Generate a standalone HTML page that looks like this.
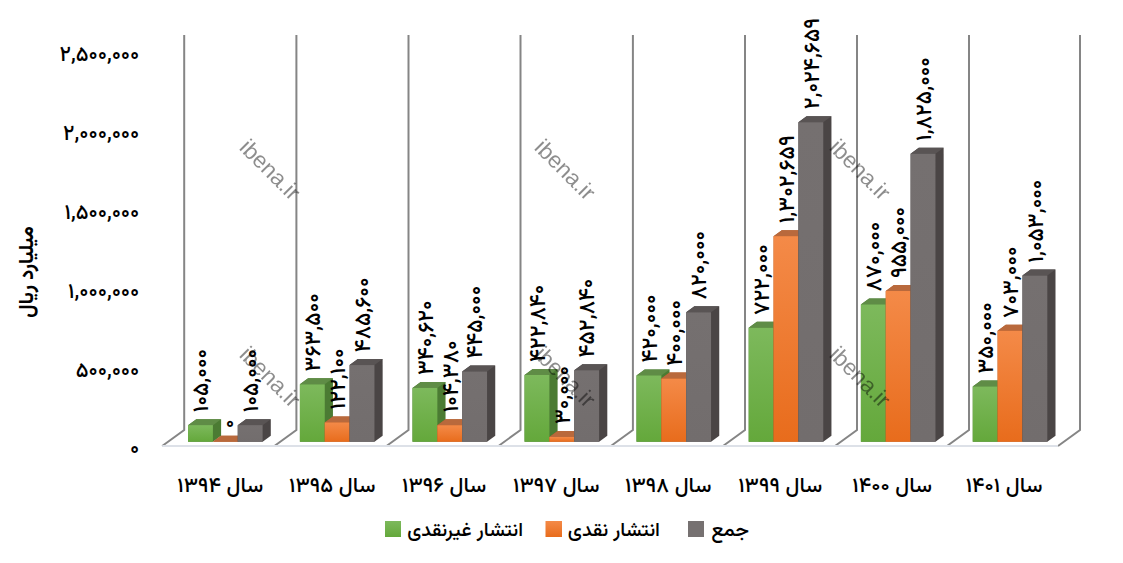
<!DOCTYPE html>
<html><head><meta charset="utf-8"><title>chart</title>
<style>
html,body{margin:0;padding:0;background:#fff;width:1123px;height:563px;overflow:hidden}
svg{display:block}
text{font-family:'Vazirmatn','DejaVu Sans',sans-serif;fill:#000;font-weight:500}
.wm{font-family:'Liberation Sans',Arial,sans-serif;font-size:22.8px;fill:#000}
.wmg{opacity:.45}
</style></head><body>
<svg width="1123" height="563" viewBox="0 0 1123 563">
<defs>
<linearGradient id="gG" x1="0" y1="0" x2="0" y2="1"><stop offset="0" stop-color="#7db95c"/><stop offset="1" stop-color="#64a83b"/></linearGradient>
<linearGradient id="gO" x1="0" y1="0" x2="0" y2="1"><stop offset="0" stop-color="#f48a48"/><stop offset="1" stop-color="#e86c1c"/></linearGradient>
<linearGradient id="gY" x1="0" y1="0" x2="0" y2="1"><stop offset="0" stop-color="#757070"/><stop offset="1" stop-color="#726d6d"/></linearGradient>
</defs>
<rect width="1123" height="563" fill="#fff"/>

<polyline points="184.2,35 184.2,430 162.2,446" fill="none" stroke="#858585" stroke-width="2"/>
<polyline points="296.4,35 296.4,430 274.4,446" fill="none" stroke="#858585" stroke-width="2"/>
<polyline points="408.5,35 408.5,430 386.5,446" fill="none" stroke="#858585" stroke-width="2"/>
<polyline points="520.5,35 520.5,430 498.5,446" fill="none" stroke="#858585" stroke-width="2"/>
<polyline points="632.9,35 632.9,430 610.9,446" fill="none" stroke="#858585" stroke-width="2"/>
<polyline points="745.0,35 745.0,430 723.0,446" fill="none" stroke="#858585" stroke-width="2"/>
<polyline points="857.0,35 857.0,430 835.0,446" fill="none" stroke="#858585" stroke-width="2"/>
<polyline points="969.0,35 969.0,430 947.0,446" fill="none" stroke="#858585" stroke-width="2"/>
<polyline points="1080.0,35 1080.0,430 1058.0,446" fill="none" stroke="#858585" stroke-width="2"/>
<line x1="162.2" y1="446" x2="1058.0" y2="446" stroke="#dde1e8" stroke-width="2"/>
<polygon points="188.05,441.7 212.90,441.7 221.10,435.7 221.10,419.13 196.25,419.13 188.05,425.13" fill="#4b7b33"/>
<polygon points="188.05,425.13 196.25,419.13 221.10,419.13 212.90,425.13" fill="#5f8c46"/>
<rect x="188.05" y="425.13" width="24.85" height="16.57" fill="url(#gG)"/>
<polygon points="212.90,441.7 237.75,441.7 245.95,435.7 245.95,435.70 221.10,435.70 212.90,441.70" fill="#b05a22"/>
<polygon points="212.90,441.70 221.10,435.70 245.95,435.70 237.75,441.70" fill="#b9693c"/>
<polygon points="237.75,441.7 262.60,441.7 270.80,435.7 270.80,419.13 245.95,419.13 237.75,425.13" fill="#4a4545"/>
<polygon points="237.75,425.13 245.95,419.13 270.80,419.13 262.60,425.13" fill="#595454"/>
<rect x="237.75" y="425.13" width="24.85" height="16.57" fill="url(#gY)"/>
<polygon points="299.90,441.7 324.75,441.7 332.95,435.7 332.95,378.35 308.10,378.35 299.90,384.35" fill="#4b7b33"/>
<polygon points="299.90,384.35 308.10,378.35 332.95,378.35 324.75,384.35" fill="#5f8c46"/>
<rect x="299.90" y="384.35" width="24.85" height="57.35" fill="url(#gG)"/>
<polygon points="324.75,441.7 349.60,441.7 357.80,435.7 357.80,416.44 332.95,416.44 324.75,422.44" fill="#b05a22"/>
<polygon points="324.75,422.44 332.95,416.44 357.80,416.44 349.60,422.44" fill="#b9693c"/>
<rect x="324.75" y="422.44" width="24.85" height="19.26" fill="url(#gO)"/>
<polygon points="349.60,441.7 374.45,441.7 382.65,435.7 382.65,359.08 357.80,359.08 349.60,365.08" fill="#4a4545"/>
<polygon points="349.60,365.08 357.80,359.08 382.65,359.08 374.45,365.08" fill="#595454"/>
<rect x="349.60" y="365.08" width="24.85" height="76.62" fill="url(#gY)"/>
<polygon points="412.50,441.7 437.35,441.7 445.55,435.7 445.55,381.96 420.70,381.96 412.50,387.96" fill="#4b7b33"/>
<polygon points="412.50,387.96 420.70,381.96 445.55,381.96 437.35,387.96" fill="#5f8c46"/>
<rect x="412.50" y="387.96" width="24.85" height="53.74" fill="url(#gG)"/>
<polygon points="437.35,441.7 462.20,441.7 470.40,435.7 470.40,419.23 445.55,419.23 437.35,425.23" fill="#b05a22"/>
<polygon points="437.35,425.23 445.55,419.23 470.40,419.23 462.20,425.23" fill="#b9693c"/>
<rect x="437.35" y="425.23" width="24.85" height="16.47" fill="url(#gO)"/>
<polygon points="462.20,441.7 487.05,441.7 495.25,435.7 495.25,365.49 470.40,365.49 462.20,371.49" fill="#4a4545"/>
<polygon points="462.20,371.49 470.40,365.49 495.25,365.49 487.05,371.49" fill="#595454"/>
<rect x="462.20" y="371.49" width="24.85" height="70.21" fill="url(#gY)"/>
<polygon points="524.55,441.7 549.40,441.7 557.60,435.7 557.60,368.98 532.75,368.98 524.55,374.98" fill="#4b7b33"/>
<polygon points="524.55,374.98 532.75,368.98 557.60,368.98 549.40,374.98" fill="#5f8c46"/>
<rect x="524.55" y="374.98" width="24.85" height="66.72" fill="url(#gG)"/>
<polygon points="549.40,441.7 574.25,441.7 582.45,435.7 582.45,430.97 557.60,430.97 549.40,436.97" fill="#b05a22"/>
<polygon points="549.40,436.97 557.60,430.97 582.45,430.97 574.25,436.97" fill="#b9693c"/>
<rect x="549.40" y="436.97" width="24.85" height="4.73" fill="url(#gO)"/>
<polygon points="574.25,441.7 599.10,441.7 607.30,435.7 607.30,364.25 582.45,364.25 574.25,370.25" fill="#4a4545"/>
<polygon points="574.25,370.25 582.45,364.25 607.30,364.25 599.10,370.25" fill="#595454"/>
<rect x="574.25" y="370.25" width="24.85" height="71.45" fill="url(#gY)"/>
<polygon points="636.50,441.7 661.35,441.7 669.55,435.7 669.55,369.43 644.70,369.43 636.50,375.43" fill="#4b7b33"/>
<polygon points="636.50,375.43 644.70,369.43 669.55,369.43 661.35,375.43" fill="#5f8c46"/>
<rect x="636.50" y="375.43" width="24.85" height="66.27" fill="url(#gG)"/>
<polygon points="661.35,441.7 686.20,441.7 694.40,435.7 694.40,372.59 669.55,372.59 661.35,378.59" fill="#b05a22"/>
<polygon points="661.35,378.59 669.55,372.59 694.40,372.59 686.20,378.59" fill="#b9693c"/>
<rect x="661.35" y="378.59" width="24.85" height="63.11" fill="url(#gO)"/>
<polygon points="686.20,441.7 711.05,441.7 719.25,435.7 719.25,306.32 694.40,306.32 686.20,312.32" fill="#4a4545"/>
<polygon points="686.20,312.32 694.40,306.32 719.25,306.32 711.05,312.32" fill="#595454"/>
<rect x="686.20" y="312.32" width="24.85" height="129.38" fill="url(#gY)"/>
<polygon points="748.70,441.7 773.55,441.7 781.75,435.7 781.75,321.78 756.90,321.78 748.70,327.78" fill="#4b7b33"/>
<polygon points="748.70,327.78 756.90,321.78 781.75,321.78 773.55,327.78" fill="#5f8c46"/>
<rect x="748.70" y="327.78" width="24.85" height="113.92" fill="url(#gG)"/>
<polygon points="773.55,441.7 798.40,441.7 806.60,435.7 806.60,230.17 781.75,230.17 773.55,236.17" fill="#b05a22"/>
<polygon points="773.55,236.17 781.75,230.17 806.60,230.17 798.40,236.17" fill="#b9693c"/>
<rect x="773.55" y="236.17" width="24.85" height="205.53" fill="url(#gO)"/>
<polygon points="798.40,441.7 823.25,441.7 831.45,435.7 831.45,116.25 806.60,116.25 798.40,122.25" fill="#4a4545"/>
<polygon points="798.40,122.25 806.60,116.25 831.45,116.25 823.25,122.25" fill="#595454"/>
<rect x="798.40" y="122.25" width="24.85" height="319.45" fill="url(#gY)"/>
<polygon points="860.90,441.7 885.75,441.7 893.95,435.7 893.95,298.43 869.10,298.43 860.90,304.43" fill="#4b7b33"/>
<polygon points="860.90,304.43 869.10,298.43 893.95,298.43 885.75,304.43" fill="#5f8c46"/>
<rect x="860.90" y="304.43" width="24.85" height="137.27" fill="url(#gG)"/>
<polygon points="885.75,441.7 910.60,441.7 918.80,435.7 918.80,285.02 893.95,285.02 885.75,291.02" fill="#b05a22"/>
<polygon points="885.75,291.02 893.95,285.02 918.80,285.02 910.60,291.02" fill="#b9693c"/>
<rect x="885.75" y="291.02" width="24.85" height="150.68" fill="url(#gO)"/>
<polygon points="910.60,441.7 935.45,441.7 943.65,435.7 943.65,147.75 918.80,147.75 910.60,153.75" fill="#4a4545"/>
<polygon points="910.60,153.75 918.80,147.75 943.65,147.75 935.45,153.75" fill="#595454"/>
<rect x="910.60" y="153.75" width="24.85" height="287.95" fill="url(#gY)"/>
<polygon points="972.75,441.7 997.60,441.7 1005.80,435.7 1005.80,380.48 980.95,380.48 972.75,386.48" fill="#4b7b33"/>
<polygon points="972.75,386.48 980.95,380.48 1005.80,380.48 997.60,386.48" fill="#5f8c46"/>
<rect x="972.75" y="386.48" width="24.85" height="55.22" fill="url(#gG)"/>
<polygon points="997.60,441.7 1022.45,441.7 1030.65,435.7 1030.65,324.78 1005.80,324.78 997.60,330.78" fill="#b05a22"/>
<polygon points="997.60,330.78 1005.80,324.78 1030.65,324.78 1022.45,330.78" fill="#b9693c"/>
<rect x="997.60" y="330.78" width="24.85" height="110.92" fill="url(#gO)"/>
<polygon points="1022.45,441.7 1047.30,441.7 1055.50,435.7 1055.50,269.56 1030.65,269.56 1022.45,275.56" fill="#4a4545"/>
<polygon points="1022.45,275.56 1030.65,269.56 1055.50,269.56 1047.30,275.56" fill="#595454"/>
<rect x="1022.45" y="275.56" width="24.85" height="166.14" fill="url(#gY)"/>
<text transform="translate(202.7,412.2) rotate(-90)" font-size="22.2" dominant-baseline="central">۱۰۵,۰۰۰</text>
<text transform="translate(229.5,428.2) rotate(-90)" font-size="20" dominant-baseline="central">۰</text>
<text transform="translate(252.4,412.2) rotate(-90)" font-size="22.2" dominant-baseline="central">۱۰۵,۰۰۰</text>
<text transform="translate(314.5,371.4) rotate(-90)" font-size="22.2" dominant-baseline="central">۳۶۳,۵۰۰</text>
<text transform="translate(339.4,409.5) rotate(-90)" font-size="22.2" dominant-baseline="central">۱۲۲,۱۰۰</text>
<text transform="translate(364.2,352.2) rotate(-90)" font-size="22.2" dominant-baseline="central">۴۸۵,۶۰۰</text>
<text transform="translate(427.1,375.1) rotate(-90)" font-size="22.2" dominant-baseline="central">۳۴۰,۶۲۰</text>
<text transform="translate(452.0,412.3) rotate(-90)" font-size="22.2" dominant-baseline="central">۱۰۴,۳۸۰</text>
<text transform="translate(476.8,358.6) rotate(-90)" font-size="22.2" dominant-baseline="central">۴۴۵,۰۰۰</text>
<text transform="translate(539.2,362.1) rotate(-90)" font-size="22.2" dominant-baseline="central">۴۲۲,۸۴۰</text>
<text transform="translate(564.0,424.1) rotate(-90)" font-size="22.2" dominant-baseline="central">۳۰,۰۰۰</text>
<text transform="translate(588.9,357.4) rotate(-90)" font-size="22.2" dominant-baseline="central">۴۵۲,۸۴۰</text>
<text transform="translate(651.1,362.5) rotate(-90)" font-size="22.2" dominant-baseline="central">۴۲۰,۰۰۰</text>
<text transform="translate(676.0,365.7) rotate(-90)" font-size="22.2" dominant-baseline="central">۴۰۰,۰۰۰</text>
<text transform="translate(700.8,299.4) rotate(-90)" font-size="22.2" dominant-baseline="central">۸۲۰,۰۰۰</text>
<text transform="translate(763.3,314.9) rotate(-90)" font-size="22.2" dominant-baseline="central">۷۲۲,۰۰۰</text>
<text transform="translate(788.2,223.3) rotate(-90)" font-size="22.2" dominant-baseline="central">۱,۳۰۲,۶۵۹</text>
<text transform="translate(813.0,109.3) rotate(-90)" font-size="22.2" dominant-baseline="central">۲,۰۲۴,۶۵۹</text>
<text transform="translate(875.5,291.5) rotate(-90)" font-size="22.2" dominant-baseline="central">۸۷۰,۰۰۰</text>
<text transform="translate(900.4,278.1) rotate(-90)" font-size="22.2" dominant-baseline="central">۹۵۵,۰۰۰</text>
<text transform="translate(925.2,140.9) rotate(-90)" font-size="22.2" dominant-baseline="central">۱,۸۲۵,۰۰۰</text>
<text transform="translate(987.4,373.6) rotate(-90)" font-size="22.2" dominant-baseline="central">۳۵۰,۰۰۰</text>
<text transform="translate(1012.2,317.9) rotate(-90)" font-size="22.2" dominant-baseline="central">۷۰۳,۰۰۰</text>
<text transform="translate(1037.1,262.7) rotate(-90)" font-size="22.2" dominant-baseline="central">۱,۰۵۳,۰۰۰</text>
<text x="139.3" y="55.6" text-anchor="end" font-size="21.3" dominant-baseline="central">۲,۵۰۰,۰۰۰</text>
<text x="139.3" y="134.4" text-anchor="end" font-size="21.3" dominant-baseline="central">۲,۰۰۰,۰۰۰</text>
<text x="139.3" y="213.3" text-anchor="end" font-size="21.3" dominant-baseline="central">۱,۵۰۰,۰۰۰</text>
<text x="139.3" y="292.1" text-anchor="end" font-size="21.3" dominant-baseline="central">۱,۰۰۰,۰۰۰</text>
<text x="139.3" y="371.0" text-anchor="end" font-size="21.3" dominant-baseline="central">۵۰۰,۰۰۰</text>
<text x="139.3" y="449.8" text-anchor="end" font-size="21.3" dominant-baseline="central">۰</text>
<text transform="translate(28,272) rotate(-90)" text-anchor="middle" dominant-baseline="central" font-size="20.3" style="font-weight:700" direction="rtl">میلیارد ریال</text>
<text transform="translate(220.3,486.2) scale(1.04,1)" text-anchor="middle" dominant-baseline="central" font-size="20.6" direction="rtl">سال ۱۳۹۴</text>
<text transform="translate(332.3,486.2) scale(1.04,1)" text-anchor="middle" dominant-baseline="central" font-size="20.6" direction="rtl">سال ۱۳۹۵</text>
<text transform="translate(444.2,486.2) scale(1.04,1)" text-anchor="middle" dominant-baseline="central" font-size="20.6" direction="rtl">سال ۱۳۹۶</text>
<text transform="translate(556.2,486.2) scale(1.04,1)" text-anchor="middle" dominant-baseline="central" font-size="20.6" direction="rtl">سال ۱۳۹۷</text>
<text transform="translate(668.2,486.2) scale(1.04,1)" text-anchor="middle" dominant-baseline="central" font-size="20.6" direction="rtl">سال ۱۳۹۸</text>
<text transform="translate(780.2,486.2) scale(1.04,1)" text-anchor="middle" dominant-baseline="central" font-size="20.6" direction="rtl">سال ۱۳۹۹</text>
<text transform="translate(892.1,486.2) scale(1.04,1)" text-anchor="middle" dominant-baseline="central" font-size="20.6" direction="rtl">سال ۱۴۰۰</text>
<text transform="translate(1004.1,486.2) scale(1.04,1)" text-anchor="middle" dominant-baseline="central" font-size="20.6" direction="rtl">سال ۱۴۰۱</text>
<rect x="385" y="521" width="16" height="16" fill="url(#gG)"/>
<text x="523" y="531.2" text-anchor="start" direction="rtl" dominant-baseline="central" font-size="19.6">انتشار غیرنقدی</text>
<rect x="545.5" y="521" width="16.5" height="16" fill="url(#gO)"/>
<text x="660" y="531.2" text-anchor="start" direction="rtl" dominant-baseline="central" font-size="19.8">انتشار نقدی</text>
<rect x="688" y="521" width="16" height="16" fill="#767171"/>
<text x="749" y="531.2" text-anchor="start" direction="rtl" dominant-baseline="central" font-size="20.4">جمع</text>
<g class="wmg">
<text class="wm" transform="translate(238.2,148.8) rotate(45)">ibena.ir</text>
<text class="wm" transform="translate(533.2,148.8) rotate(45)">ibena.ir</text>
<text class="wm" transform="translate(828.2,148.8) rotate(45)">ibena.ir</text>
<text class="wm" transform="translate(238.2,356.0) rotate(45)">ibena.ir</text>
<text class="wm" transform="translate(533.2,356.0) rotate(45)">ibena.ir</text>
<text class="wm" transform="translate(828.2,356.0) rotate(45)">ibena.ir</text>
</g>
</svg></body></html>
